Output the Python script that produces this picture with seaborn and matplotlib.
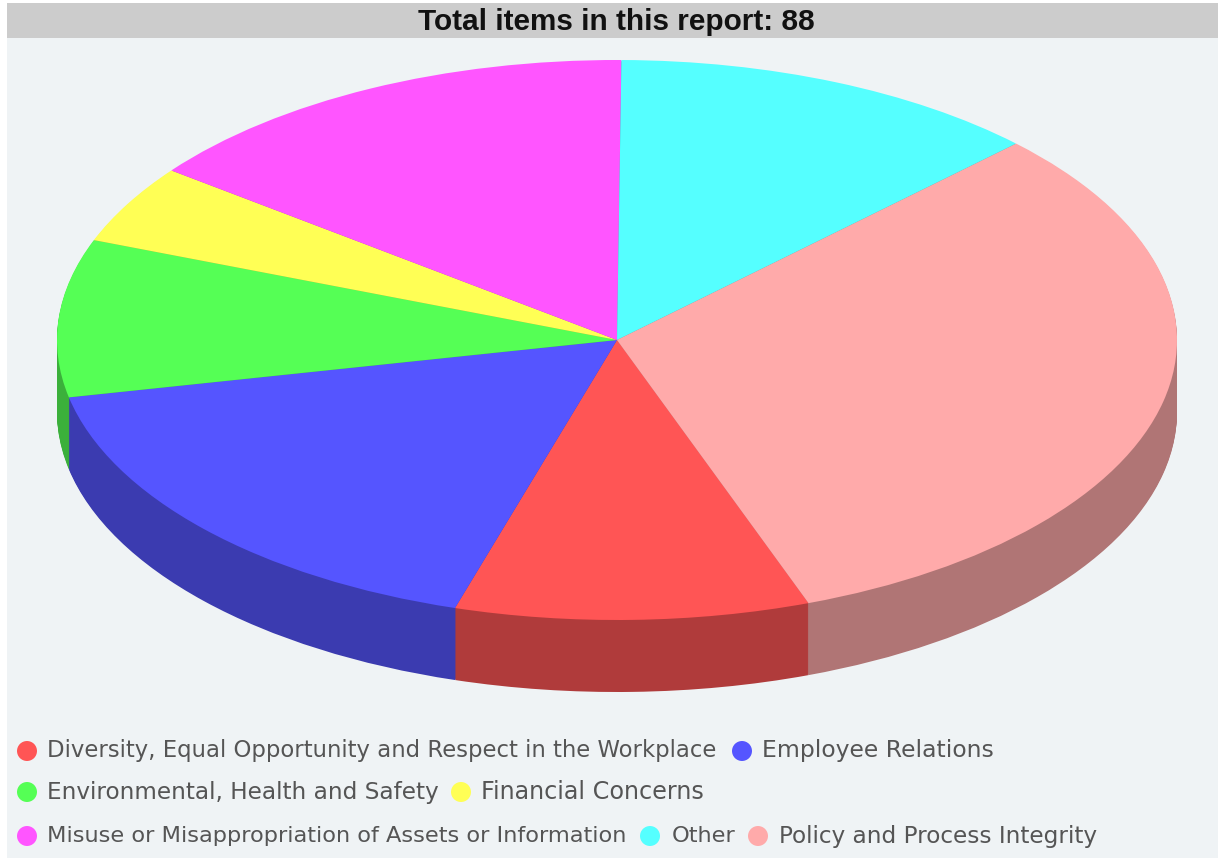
import matplotlib

matplotlib.use("Agg")
import matplotlib.pyplot as plt
import seaborn as sns
from matplotlib.patches import Rectangle

CATEGORIES = [
    "Diversity, Equal Opportunity and Respect in the Workplace",
    "Employee Relations",
    "Environmental, Health and Safety",
    "Financial Concerns",
    "Misuse or Misappropriation of Assets or Information",
    "Other",
    "Policy and Process Integrity",
]
COUNTS = [9, 15, 8, 4, 13, 11, 28]
COLORS = ["#ff5555", "#5555ff", "#55ff55", "#ffff55", "#ff55ff", "#55ffff", "#ffaaaa"]
TITLE = "Total items in this report: 88"

WIDTH, HEIGHT = 1218, 861
# pie geometry in pixels
CX, CY, RX, RY, DEPTH = 617, 340, 560, 280, 72
# legend layout in pixels: marker x, text x, y for each category
LEGEND_MARKER_X = [27, 742, 27, 461, 27, 650, 758]
LEGEND_TEXT_X = [47, 762, 47, 481, 47, 672, 779]
LEGEND_Y = [751, 751, 792, 792, 836, 836, 836]
# the original text is letter-spaced unevenly, so each label is fitted to its width
LEGEND_SIZES = [16.4, 16.9, 16.65, 17.2, 16.2, 16.2, 16.7]

sns.set_style("white")
palette = sns.color_palette(COLORS)
dark_palette = [tuple(c * 0.69 for c in color) for color in palette]

fig = plt.figure(figsize=(WIDTH / 100, HEIGHT / 100), dpi=100, facecolor="white")

# background panel, title bar and legend, in pixel coordinates
frame = fig.add_axes([0, 0, 1, 1])
frame.set_xlim(0, WIDTH)
frame.set_ylim(HEIGHT, 0)
frame.axis("off")
frame.add_patch(Rectangle((7, 3), WIDTH - 7, 855, color="#eff3f5", lw=0))
frame.add_patch(Rectangle((7, 3), WIDTH - 7, 35, color="#cccccc", lw=0))
frame.text(
    616, 21.5, TITLE, ha="center", va="center",
    fontsize=21.4, fontweight="bold", family="Liberation Sans", color="#111111",
)

sns.scatterplot(
    x=LEGEND_MARKER_X, y=LEGEND_Y, hue=CATEGORIES, hue_order=CATEGORIES,
    palette=palette, s=207, linewidth=0, legend=False, ax=frame,
)
frame.set_xlim(0, WIDTH)
frame.set_ylim(HEIGHT, 0)
for label, x, y, size in zip(CATEGORIES, LEGEND_TEXT_X, LEGEND_Y, LEGEND_SIZES):
    frame.text(x, y, label, ha="left", va="center", fontsize=size, color="#555555")

# pie: radius 1 is RX wide and RY tall once the aspect is released
ax = fig.add_axes([0, 0, 1, 1])
ax.patch.set_alpha(0)
for offset in range(DEPTH, 0, -1):
    ax.pie(
        COUNTS, colors=dark_palette, startangle=-70, counterclock=False,
        center=(0, -offset / RY), wedgeprops={"linewidth": 0},
    )
ax.pie(
    COUNTS, colors=palette, startangle=-70, counterclock=False,
    wedgeprops={"linewidth": 0},
)
ax.set_aspect("auto")
ax.set_xlim(-CX / RX, (WIDTH - CX) / RX)
ax.set_ylim((CY - HEIGHT) / RY, CY / RY)
sns.despine(ax=ax, left=True, bottom=True)

fig.savefig("out.png", dpi=100)
